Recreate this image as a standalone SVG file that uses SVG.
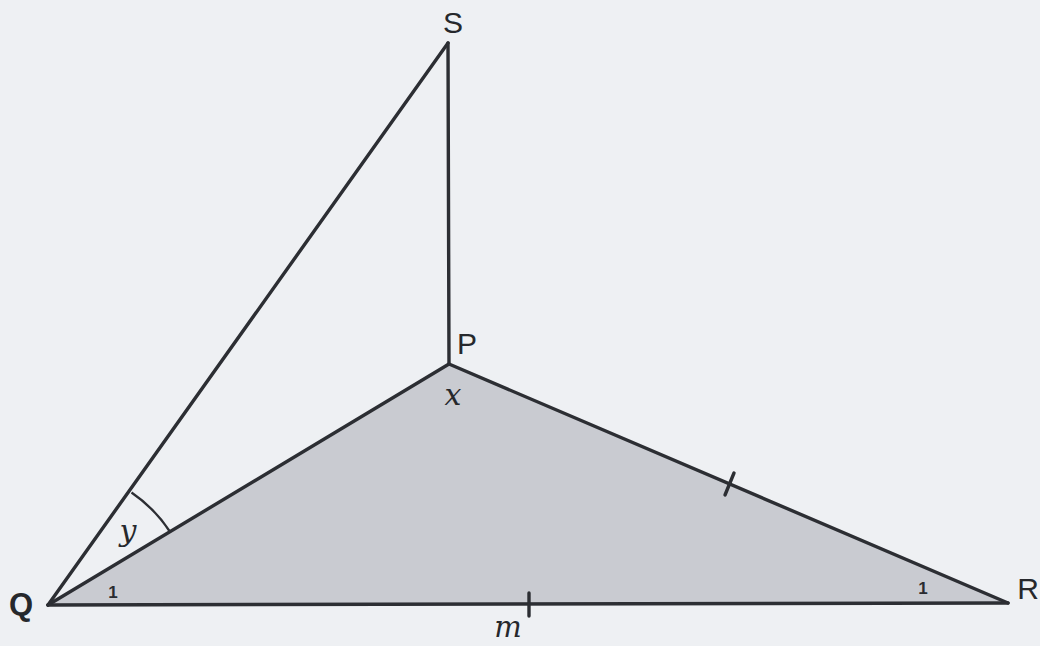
<svg xmlns="http://www.w3.org/2000/svg" width="1040" height="646" viewBox="0 0 1040 646">
<style>
.ln{stroke:#2c2e33;stroke-width:3.4;fill:none;stroke-linecap:round;stroke-linejoin:round}
.thin{stroke:#2c2e33;stroke-width:2.4;fill:none}
.lbl{font-family:"Liberation Sans",Arial,sans-serif;font-size:30px;fill:#26282c}
.it{font-family:"DejaVu Serif","Liberation Serif",serif;font-style:italic;font-size:30px;fill:#26282c}
.one{font-family:"Liberation Sans",Arial,sans-serif;font-size:17px;font-weight:bold;fill:#2a2c30}
</style>
<rect width="1040" height="646" fill="#eef0f3"/>
<g id="triangle-PQR">
<polygon points="48,605 449,364 1008,603" fill="#c9cbd1"/>
</g>
<g id="connectors">
<line class="ln" x1="48" y1="605" x2="448" y2="43"/>
<line class="ln" x1="448" y1="43" x2="449" y2="364"/>
<line class="ln" x1="48" y1="605" x2="449" y2="364"/>
<line class="ln" x1="449" y1="364" x2="1008" y2="603"/>
<line class="ln" x1="48" y1="605" x2="1008" y2="603"/>
<line class="ln" x1="529" y1="593" x2="529" y2="616"/>
<line class="ln" x1="734" y1="473" x2="725" y2="495"/>
<path class="thin" d="M 131.5 492.5 A 141 141 0 0 1 170.5 532.5"/>
</g>
<g id="node-S"><text class="lbl" x="453" y="33" text-anchor="middle">S</text></g>
<g id="node-P"><text class="lbl" x="467" y="354" text-anchor="middle">P</text></g>
<g id="node-Q"><text class="lbl" x="21" y="615" text-anchor="middle" style="font-weight:bold;font-size:31px">Q</text></g>
<g id="node-R"><text class="lbl" x="1028" y="599" text-anchor="middle">R</text></g>
<g id="labels">
<text class="it" x="453" y="405" text-anchor="middle">x</text>
<text class="it" x="128" y="541" text-anchor="middle">y</text>
<text class="it" x="508" y="637" text-anchor="middle" style="font-size:29px">m</text>
<text class="one" x="113" y="598" text-anchor="middle">1</text>
<text class="one" x="923" y="594" text-anchor="middle">1</text>
</g>
</svg>
